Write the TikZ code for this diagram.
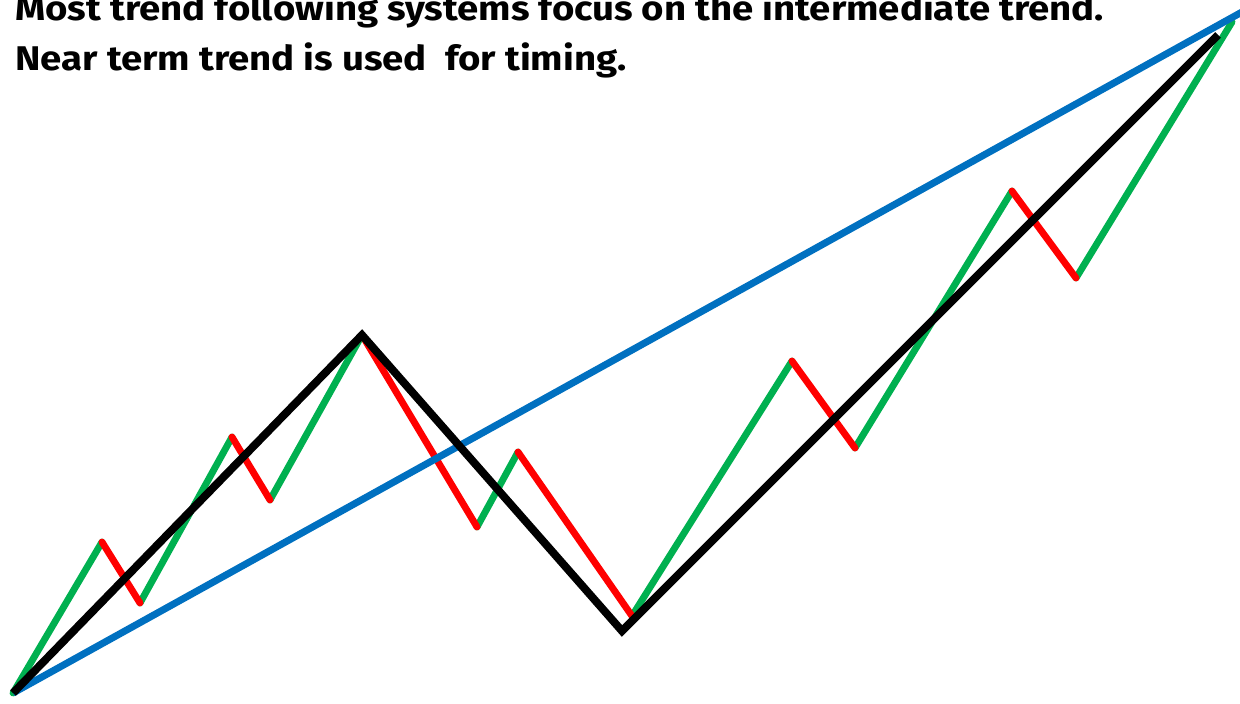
\documentclass[tikz,border=0pt]{standalone}
\usepackage{fontspec}
\setmainfont{Fira Sans}[FakeStretch=1.12]
\usetikzlibrary{positioning}
\definecolor{trendBlue}{RGB}{0,112,192}
\definecolor{trendGreen}{RGB}{0,176,80}
\definecolor{trendRed}{RGB}{255,0,0}

\begin{document}
\begin{tikzpicture}[
      x=0.02cm,y=-0.02cm,
      near/.style={line width=3.9pt,line cap=round},
      upleg/.style={near,draw=trendGreen},
      downleg/.style={near,draw=trendRed},
      inter/.style={line width=4.5pt,draw=black},
      prim/.style={line width=4pt,draw=trendBlue},
      caption/.style={font=\bfseries\fontsize{19.5}{28}\selectfont,inner sep=0pt,anchor=base west}]

    \useasboundingbox (0,0) rectangle (1240,703);
    \clip (0,0) rectangle (1240,703);

    % ---------- captions ----------
    \node[caption] (head) at (15,20) {Most trend following systems focus on the intermediate trend.};
    \node[caption] (sub)  at (15,70) {Near term trend is used~ for timing.};

    % ---------- near term swings ----------
    \coordinate (p0)  at (13,693);
    \coordinate (p1)  at (102,542);
    \coordinate (p2)  at (140,603);
    \coordinate (p3)  at (232,437);
    \coordinate (p4)  at (270,500);
    \coordinate (p5)  at (362,335);
    \coordinate (p6)  at (477,527);
    \coordinate (p7)  at (518,452);
    \coordinate (p8)  at (632,616);
    \coordinate (p9)  at (792,361);
    \coordinate (p10) at (855,448);
    \coordinate (p11) at (1012,191);
    \coordinate (p12) at (1076,278);
    \coordinate (p13) at (1232,22);
    \foreach \a/\b in {p0/p1,p2/p3,p4/p5,p6/p7,p8/p9,p10/p11,p12/p13} \draw[upleg] (\a) -- (\b);
    \foreach \a/\b in {p1/p2,p3/p4,p5/p6,p7/p8,p9/p10,p11/p12} \draw[downleg] (\a) -- (\b);

    % ---------- primary trend ----------
    \coordinate (pend) at (1242,12);
    \draw[prim] (p0) -- (pend);

    % ---------- intermediate trend ----------
    \coordinate (low) at (622,631);
    \coordinate (iend) at (1218,35);
    \draw[inter] (p0) -- (p5) -- (low) -- (iend);
  \end{tikzpicture}
\end{document}
